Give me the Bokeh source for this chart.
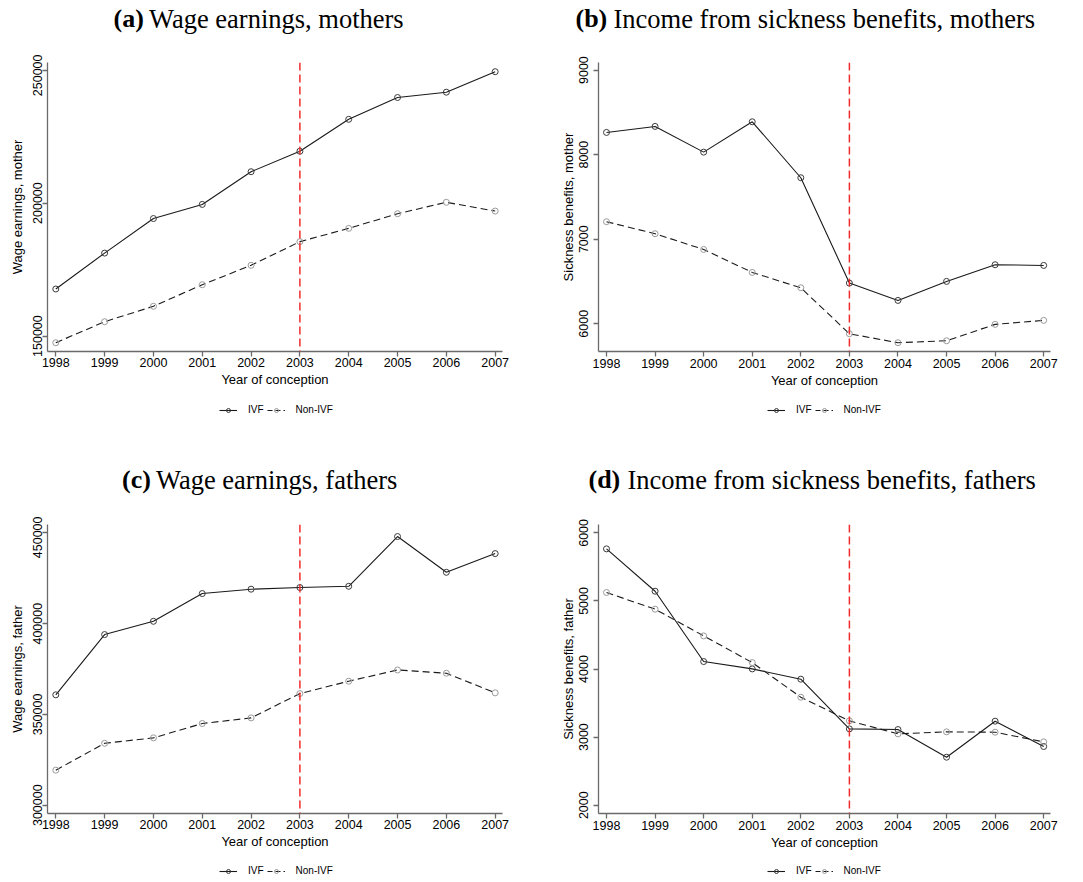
from bokeh.plotting import figure
from bokeh.layouts import column, row
from bokeh.models import Span, FixedTicker, BasicTickFormatter, Legend, LegendItem
from bokeh.core.properties import value
from bokeh.embed import file_html
from bokeh.resources import INLINE

# ---------------- data ----------------
years = [1998, 1999, 2000, 2001, 2002, 2003, 2004, 2005, 2006, 2007]
reform_year = 2003

wage_mother_ivf = [167700, 181200, 194200, 199500, 211800, 219500, 231500, 239700, 241700, 249400]
wage_mother_non = [147500, 155400, 161200, 169300, 176600, 185500, 190500, 196000, 200300, 197000]

sick_mother_ivf = [8263, 8334, 8030, 8389, 7727, 6481, 6276, 6501, 6698, 6690]
sick_mother_non = [7207, 7065, 6879, 6607, 6426, 5882, 5776, 5799, 5993, 6040]

wage_father_ivf = [360800, 394000, 401300, 416600, 419000, 419900, 420600, 448000, 428300, 438600]
wage_father_non = [319300, 334100, 337100, 345000, 348100, 361500, 368300, 374500, 372700, 361900]

sick_father_ivf = [5765, 5143, 4110, 4002, 3851, 3121, 3111, 2705, 3234, 2862]
sick_father_non = [5124, 4879, 4487, 4095, 3586, 3239, 3048, 3077, 3072, 2930]

ticks_wage_mother = [150000, 200000, 250000]
ticks_sick_mother = [6000, 7000, 8000, 9000]
ticks_wage_father = [300000, 350000, 400000, 450000]
ticks_sick_father = [2000, 3000, 4000, 5000, 6000]

title_tags = ["(a)", "(b)", "(c)", "(d)"]
title_texts = ["Wage earnings, mothers",
               "Income from sickness benefits, mothers",
               "Wage earnings, fathers",
               "Income from sickness benefits, fathers"]
ylabels = ["Wage earnings, mother", "Sickness benefits, mother",
           "Wage earnings, father", "Sickness benefits, father"]
xlabel = "Year of conception"
series_names = ["IVF", "Non-IVF"]

# ---------------- style ----------------
SANS = "Liberation Sans"
SERIF = "Liberation Serif"
AXIS_COL = "#6a6a6a"
LINE_COL = "#1a1a1a"
IVF_MK = "#3a3a3a"
NON_MK = "#9a9a9a"
DASH = "7 4"
TOTAL_W = 1083
NAN = float("nan")


def style_series(p, ivf, non):
    p.line(years, ivf, line_color=LINE_COL, line_width=1.1)
    p.scatter(years, ivf, marker="circle", size=6, line_color=IVF_MK,
              fill_color=None, line_width=1)
    p.line(years, non, line_color=LINE_COL, line_width=1.1, line_dash=DASH)
    p.scatter(years, non, marker="circle", size=6, line_color=NON_MK,
              fill_color=None, line_width=1)


def make_panel(ivf, non, ylabel, yticks, yr, left):
    if left:
        w, bl, br, xr = 548, 47, 46, (1997.83, 2007.15)
    else:
        w, bl, br, xr = 535, 50, 33, (1997.835, 2007.14)
    p = figure(width=w, height=337, x_range=xr, y_range=yr,
               output_backend="svg", toolbar_location=None,
               min_border_left=bl, min_border_right=br,
               min_border_top=8, min_border_bottom=40)
    p.grid.visible = False
    p.outline_line_color = None
    p.background_fill_color = "white"
    p.border_fill_color = "white"

    p.xaxis.ticker = FixedTicker(ticks=years)
    p.yaxis.ticker = FixedTicker(ticks=yticks)
    p.yaxis.formatter = BasicTickFormatter(use_scientific=False)
    p.xaxis.formatter = BasicTickFormatter(use_scientific=False)

    for ax in (p.xaxis[0], p.yaxis[0]):
        ax.axis_line_color = AXIS_COL
        ax.axis_line_width = 1.3
        ax.major_tick_line_color = AXIS_COL
        ax.major_tick_line_width = 1.3
        ax.major_tick_out = 5
        ax.major_tick_in = 0
        ax.minor_tick_out = 0
        ax.minor_tick_in = 0
        ax.major_label_text_font = SANS
        ax.major_label_text_font_size = "12.5px"
        ax.major_label_text_color = "black"
        ax.axis_label_text_font = SANS
        ax.axis_label_text_font_size = "13px"
        ax.axis_label_text_font_style = "normal"
        ax.axis_label_text_color = "black"

    p.xaxis.axis_label = xlabel
    p.xaxis.major_label_standoff = 1 if left else 2
    p.xaxis.axis_label_standoff = 2

    p.yaxis.axis_label = ylabel
    p.yaxis.major_label_orientation = "vertical"
    p.yaxis.major_label_standoff = 0 if left else 5
    p.yaxis.axis_label_standoff = 6 if left else 1

    style_series(p, ivf, non)
    p.add_layout(Span(location=reform_year, dimension="height",
                      line_color="#f22c2c", line_width=1.5, line_dash="8 4"))
    return p


def make_band(h):
    b = figure(width=TOTAL_W, height=h, x_range=(0, TOTAL_W), y_range=(0, h),
               output_backend="svg", toolbar_location=None,
               x_axis_type=None, y_axis_type=None, min_border=0)
    b.grid.visible = False
    b.outline_line_color = None
    b.background_fill_color = "white"
    b.border_fill_color = "white"
    return b


def add_titles(b, idx, xs_tag, xs_txt, y):
    b.text(x=xs_tag, y=[y] * len(xs_tag), text=[title_tags[i] for i in idx],
           text_font=value(SERIF), text_font_size="26px", text_font_style="bold",
           text_baseline="alphabetic", text_align="left", text_color="black")
    b.text(x=xs_txt, y=[y] * len(xs_txt), text=[title_texts[i] for i in idx],
           text_font=value(SERIF), text_font_size="26.5px", text_font_style="normal",
           text_baseline="alphabetic", text_align="left", text_color="black")


def add_legend(b, x0, y0):
    # legend keys only (no visible data in the band)
    r1 = b.line(x=[NAN], y=[NAN], line_color=LINE_COL, line_width=1.1)
    s1 = b.scatter(x=[NAN], y=[NAN], marker="circle", size=5, line_color=IVF_MK,
                   fill_color=None, line_width=1)
    r2 = b.line(x=[NAN], y=[NAN], line_color=LINE_COL, line_width=1.1, line_dash="5 3")
    s2 = b.scatter(x=[NAN], y=[NAN], marker="circle", size=5, line_color=NON_MK,
                   fill_color=None, line_width=1)
    leg = Legend(items=[LegendItem(label=series_names[0], renderers=[r1, s1]),
                        LegendItem(label=series_names[1], renderers=[r2, s2])],
                 location=(x0, y0), orientation="horizontal",
                 border_line_color=None, background_fill_alpha=0,
                 padding=0, margin=0, spacing=3, label_standoff=11,
                 glyph_width=18, glyph_height=10, label_height=10, label_width=0,
                 label_text_font=SANS, label_text_font_size="10px",
                 label_text_color="black")
    b.add_layout(leg)


# ---------------- panels ----------------
pa = make_panel(wage_mother_ivf, wage_mother_non, ylabels[0], ticks_wage_mother,
                (144200, 252860), True)
pb = make_panel(sick_mother_ivf, sick_mother_non, ylabels[1], ticks_sick_mother,
                (5672, 9090), False)
pc = make_panel(wage_father_ivf, wage_father_non, ylabels[2], ticks_wage_father,
                (295430, 454630), True)
pd_ = make_panel(sick_father_ivf, sick_father_non, ylabels[3], ticks_sick_father,
                 (1878, 6123), False)

band1 = make_band(54)
add_titles(band1, [0, 1], [113, 575], [148.5, 613], 36)

band2 = make_band(125)
add_legend(band2, 219, 101)
add_legend(band2, 767, 101)
add_titles(band2, [2, 3], [121.5, 588], [155.5, 627], 37)

band3 = make_band(29)
add_legend(band3, 219, 6)
add_legend(band3, 767, 6)

layout = column(band1, row(pa, pb), band2, row(pc, pd_), band3)

open("out.html", "w").write(file_html(layout, INLINE))
